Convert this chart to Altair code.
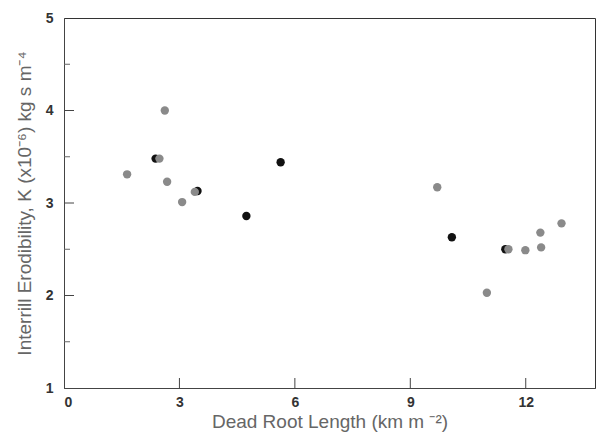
import altair as alt
import pandas as pd

# Measured points: dead root length vs. interrill erodibility
gray_x = [1.64, 2.62, 2.48, 2.68, 3.07, 3.40, 9.70, 10.99, 11.55, 11.99, 12.40, 12.38, 12.93]
gray_y = [3.31, 4.00, 3.48, 3.23, 3.01, 3.12, 3.17, 2.03, 2.50, 2.49, 2.52, 2.68, 2.78]
black_x = [2.38, 3.47, 4.74, 5.63, 10.08, 11.47]
black_y = [3.48, 3.13, 2.86, 3.44, 2.63, 2.50]

x_major = [3, 6, 9, 12]
y_major = [2, 3, 4]
y_minor = [1.5, 2.5, 3.5, 4.5]

gray_df = pd.DataFrame({"x": gray_x, "y": gray_y})
black_df = pd.DataFrame({"x": black_x, "y": black_y})

xs = alt.Scale(domain=[0, 13.8], nice=False, zero=False)
ys = alt.Scale(domain=[1, 5], nice=False, zero=False)

x_axis = alt.Axis(
    values=[0, 3, 6, 9, 12], format="d", tickSize=0, grid=False, labelPadding=7,
    labelFont="Liberation Sans", labelFontSize=14, labelFontWeight="bold",
    labelColor="#333", domainColor="#444",
    title="Dead Root Length (km m \u207b\u00b2)", titleFont="Liberation Sans",
    titleFontSize=19, titleFontWeight="normal", titleColor="#666", titlePadding=3,
)
y_axis = alt.Axis(
    values=[1, 2, 3, 4, 5], format="d", tickSize=0, grid=False, labelPadding=11,
    labelFont="Liberation Sans", labelFontSize=14, labelFontWeight="bold",
    labelColor="#333", domainColor="#444",
    title="Interrill Erodibility, K  (x10\u207b\u2076) kg s m\u207b\u2074",
    titleFont="Liberation Sans", titleFontSize=19, titleFontWeight="normal",
    titleColor="#666", titlePadding=11,
)

black = alt.Chart(black_df).mark_circle(size=70, opacity=1, color="#111").encode(
    x=alt.X("x:Q", scale=xs, axis=x_axis),
    y=alt.Y("y:Q", scale=ys, axis=y_axis),
)
gray = alt.Chart(gray_df).mark_circle(size=70, opacity=1, color="#8a8a8a").encode(
    x=alt.X("x:Q", scale=xs),
    y=alt.Y("y:Q", scale=ys),
)

# inward tick marks
xt = alt.Chart(pd.DataFrame({"v": x_major})).mark_rule(color="#444").encode(
    x=alt.X("v:Q", scale=xs), y=alt.value(370), y2=alt.value(360)
)
ytm = alt.Chart(pd.DataFrame({"v": y_major})).mark_rule(color="#444").encode(
    y=alt.Y("v:Q", scale=ys), x=alt.value(0), x2=alt.value(10)
)
ytn = alt.Chart(pd.DataFrame({"v": y_minor})).mark_rule(color="#666").encode(
    y=alt.Y("v:Q", scale=ys), x=alt.value(0), x2=alt.value(6)
)

chart = (
    alt.layer(xt, ytm, ytn, black, gray)
    .properties(
        width=531, height=370,
        autosize=alt.AutoSizeParams(type="none"),
        padding={"left": 64, "top": 18, "right": 2, "bottom": 44},
        background="white",
    )
    .configure_view(stroke="#333", strokeWidth=1)
)

chart.save("out.html", embed_options={"renderer": "svg", "actions": False})
